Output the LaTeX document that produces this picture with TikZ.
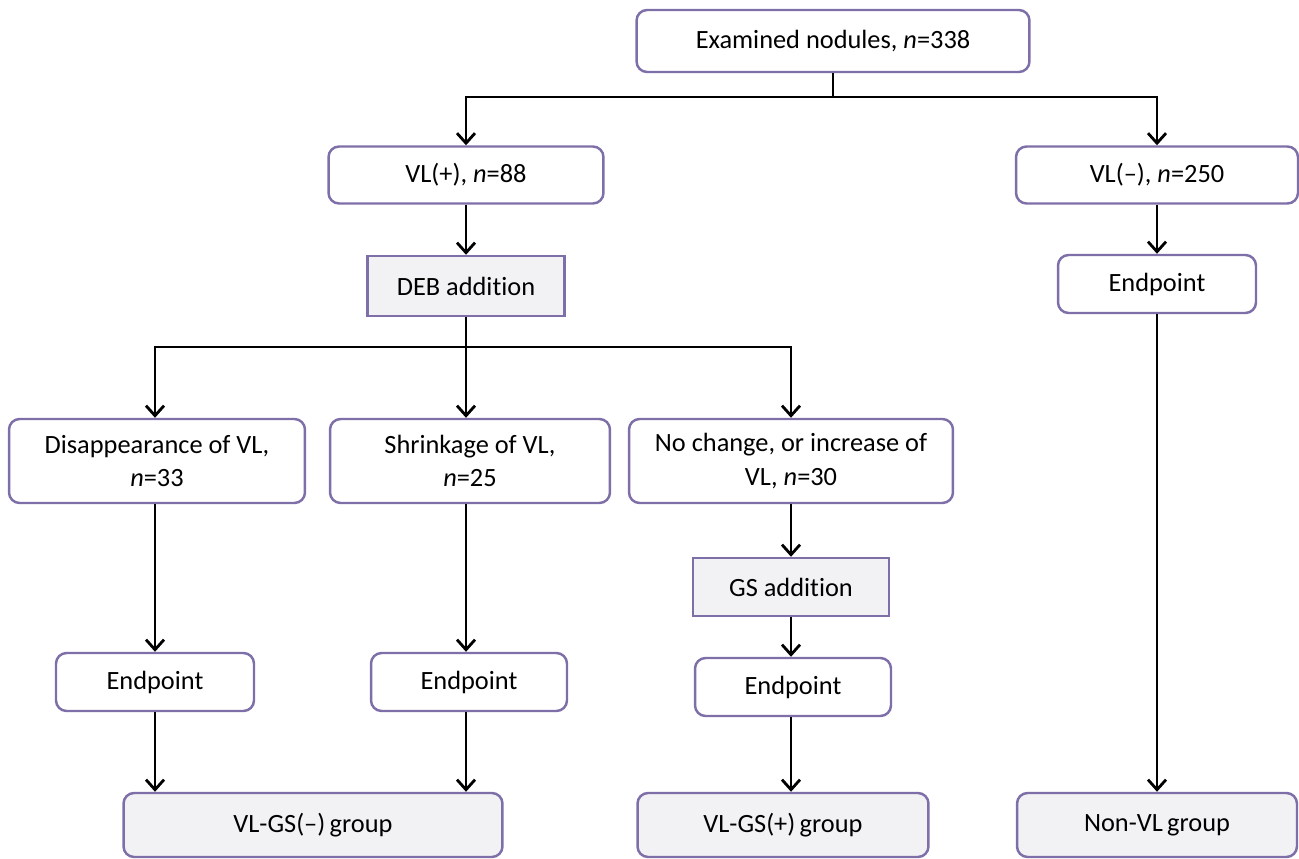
\documentclass[tikz,border=0pt]{standalone}
\usepackage{fontspec}
\setmainfont{Carlito}[Ligatures={NoCommon}]
\usepackage{xcolor}
\definecolor{mpurple}{HTML}{7F6FA8}
\definecolor{mlight}{HTML}{F2F1F4}
\usetikzlibrary{arrows.meta,positioning}
\tikzstyle{l2}=[line width=1.6pt]
\tikzstyle{arr}=[l2, -{Straight Barb[length=0.2cm,width=0.36cm,line width=1.6pt]}]
\tikzstyle{rbox}=[rectangle, rounded corners=6pt, draw=mpurple, line width=1.4pt, fill=white, align=center, font=\fontsize{15}{19}\selectfont, inner sep=2pt]
\tikzstyle{sbox}=[rbox, rounded corners=0pt, fill=mlight]
\tikzstyle{gbox}=[rbox, fill=mlight]

\begin{document}
\begin{tikzpicture}[x=0.02cm, y=-0.02cm]
    \path[use as bounding box] (0,0) rectangle (1299,859);

    \node (exam) [rbox, minimum width=7.86cm, minimum height=1.24cm] at (833,41) {Examined nodules, \textit{n}=338};
    \node (vlp) [rbox, minimum width=5.5cm, minimum height=1.14cm] at (466,175) {VL(+), \textit{n}=88};
    \node (vln) [rbox, minimum width=5.64cm, minimum height=1.14cm] at (1157,175) {VL(--), \textit{n}=250};
    \node (deb) [sbox, minimum width=3.94cm, minimum height=1.2cm] at (466,286) {DEB addition};
    \node (epn) [rbox, minimum width=3.96cm, minimum height=1.16cm] at (1157,284) {Endpoint};

    \node (dis) [rbox, minimum width=5.92cm, minimum height=1.68cm] at (157,461) {Disappearance of VL,\\ \textit{n}=33};
    \node (shr) [rbox, minimum width=5.6cm, minimum height=1.68cm] at (470,461) {Shrinkage of VL,\\ \textit{n}=25};
    \node (noc) [rbox, minimum width=6.48cm, minimum height=1.68cm] at (791,461) {No change, or increase of\\ VL, \textit{n}=30};
    \node (gs) [sbox, minimum width=3.92cm, minimum height=1.16cm] at (791,587) {GS addition};

    \node (ep1) [rbox, minimum width=3.96cm, minimum height=1.16cm] at (155,682) {Endpoint};
    \node (ep2) [rbox, minimum width=3.92cm, minimum height=1.16cm] at (469,682) {Endpoint};
    \node (ep3) [rbox, minimum width=3.92cm, minimum height=1.16cm] at (793,687) {Endpoint};

    \node (grn) [gbox, minimum width=7.58cm, minimum height=1.28cm] at (313,825) {VL-GS(--)\,group};
    \node (grp) [gbox, minimum width=5.82cm, minimum height=1.28cm] at (783,825) {VL-GS(+)\,group};
    \node (grv) [gbox, minimum width=5.6cm, minimum height=1.28cm] at (1157,825) {Non-VL\,group};

    % split points
    \coordinate (s1) at (833,97);
    \coordinate (s2) at (466,347);

    \draw[l2] (exam) -- (s1);
    \draw[arr] (s1) -| (vlp);
    \draw[arr] (s1) -| (vln);
    \draw[arr] (vlp) -- (deb);
    \draw[arr] (vln) -- (epn);

    \draw[l2] (deb) -- (s2);
    \draw[arr] (s2) -| (dis.north -| ep1);
    \draw[arr] (s2) -- (shr.north -| s2);
    \draw[arr] (s2) -| (noc);

    \draw[arr] (dis.south -| ep1) -- (ep1);
    \draw[arr] (shr.south -| s2) -- (ep2.north -| s2);
    \draw[arr] (noc) -- (gs);
    \draw[arr] (gs) -- (ep3.north -| gs);

    \draw[arr] (ep1) -- (grn.north -| ep1);
    \draw[arr] (ep2.south -| s2) -- (grn.north -| s2);
    \draw[arr] (ep3.south -| gs) -- (grp.north -| gs);
    \draw[arr] (epn) -- (grv);
\end{tikzpicture}
\end{document}
